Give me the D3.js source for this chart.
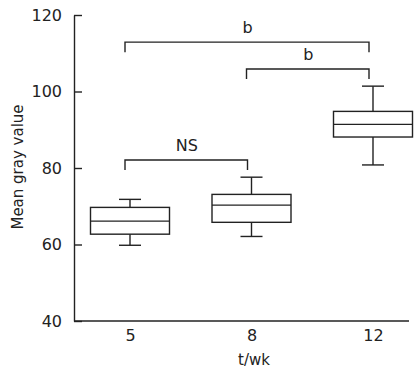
<!DOCTYPE html>
<html>
<head>
<meta charset="utf-8">
<script src="https://cdn.jsdelivr.net/npm/d3@7"></script>
<style>
  body { margin: 0; background: #fff; }
  text { font-family: "DejaVu Sans", Verdana, sans-serif; fill: #222; }
</style>
</head>
<body>
<div id="chart"></div>
<script>
// box plot data
var weeks = ["5", "8", "12"];
var whiskerLow = [59.8, 62.1, 80.8];
var q1 = [62.7, 65.8, 88.1];
var medians = [66.1, 70.3, 91.4];
var q3 = [69.7, 73.1, 94.8];
var whiskerHigh = [71.8, 77.6, 101.4];
var yTicks = [40, 60, 80, 100, 120];

// significance brackets
var bracketFrom = ["5", "8", "5"];
var bracketTo = ["12", "12", "8"];
var bracketLevel = [112.9, 105.9, 82.1];
var bracketLabel = ["b", "b", "NS"];

var svgWidth = 419;
var svgHeight = 375;

var margin = { top: 15, right: 10, bottom: 54, left: 74 };
var height = svgHeight - margin.top - margin.bottom;

var svg = d3.select("#chart")
  .append("svg")
  .attr("width", svgWidth)
  .attr("height", svgHeight);

var xScale = d3.scalePoint()
  .domain(weeks)
  .range([130, 373]);

var yScale = d3.scaleLinear()
  .domain([40, 120])
  .range([margin.top + height, margin.top]);

var ink = "#222";
var boxWidth = 79;
var capWidth = 22;

// y axis, ticks pointing inward
var leftAxis = d3.axisLeft(yScale)
  .tickValues(yTicks)
  .tickSizeInner(-8)
  .tickSizeOuter(0)
  .tickPadding(12);

var yAxisG = svg.append("g")
  .attr("transform", `translate(${margin.left}, 0)`)
  .call(leftAxis);
yAxisG.select(".domain").attr("stroke", ink).attr("stroke-width", 1.4);
yAxisG.selectAll(".tick line").attr("stroke", ink).attr("stroke-width", 1.4);
yAxisG.selectAll(".tick text")
  .attr("font-size", 16)
  .attr("fill", ink)
  .style("font-family", "DejaVu Sans");

// x axis: just the line and labels
var bottomAxis = d3.axisBottom(xScale)
  .tickSize(0)
  .tickPadding(9);

var xAxisG = svg.append("g")
  .attr("transform", `translate(0, ${margin.top + height})`)
  .call(bottomAxis);
xAxisG.select(".domain")
  .attr("d", `M${margin.left},0H409`)
  .attr("stroke", ink).attr("stroke-width", 1.4);
xAxisG.selectAll(".tick text")
  .attr("font-size", 16)
  .attr("fill", ink)
  .style("font-family", "DejaVu Sans");

// axis titles
svg.append("text")
  .attr("x", 254)
  .attr("y", 365)
  .attr("text-anchor", "middle")
  .attr("font-size", 15)
  .text("t/wk");

svg.append("text")
  .attr("transform", "translate(23, 167) rotate(-90)")
  .attr("text-anchor", "middle")
  .attr("font-size", 15)
  .text("Mean gray value");

// boxes
var boxData = weeks.map(function(w, i) {
  return { week: w, lo: whiskerLow[i], q1: q1[i], med: medians[i], q3: q3[i], hi: whiskerHigh[i] };
});

var boxGroup = svg.selectAll(null)
  .data(boxData)
  .enter()
  .append("g")
  .attr("stroke", ink)
  .attr("stroke-width", 1.4)
  .attr("fill", "none");

// whiskers
boxGroup.append("line")
  .attr("x1", d => xScale(d.week))
  .attr("x2", d => xScale(d.week))
  .attr("y1", d => yScale(d.hi))
  .attr("y2", d => yScale(d.q3));
boxGroup.append("line")
  .attr("x1", d => xScale(d.week))
  .attr("x2", d => xScale(d.week))
  .attr("y1", d => yScale(d.q1))
  .attr("y2", d => yScale(d.lo));
boxGroup.append("line")
  .attr("x1", d => xScale(d.week) - capWidth / 2)
  .attr("x2", d => xScale(d.week) + capWidth / 2)
  .attr("y1", d => yScale(d.hi))
  .attr("y2", d => yScale(d.hi));
boxGroup.append("line")
  .attr("x1", d => xScale(d.week) - capWidth / 2)
  .attr("x2", d => xScale(d.week) + capWidth / 2)
  .attr("y1", d => yScale(d.lo))
  .attr("y2", d => yScale(d.lo));

boxGroup.append("rect")
  .attr("x", d => xScale(d.week) - boxWidth / 2)
  .attr("width", boxWidth)
  .attr("y", d => yScale(d.q3))
  .attr("height", d => yScale(d.q1) - yScale(d.q3));

boxGroup.append("line")
  .attr("x1", d => xScale(d.week) - boxWidth / 2)
  .attr("x2", d => xScale(d.week) + boxWidth / 2)
  .attr("y1", d => yScale(d.med))
  .attr("y2", d => yScale(d.med));

// brackets
var bracketData = bracketLabel.map(function(lab, i) {
  return { from: bracketFrom[i], to: bracketTo[i], level: bracketLevel[i], label: lab };
});

var brackets = svg.selectAll(null)
  .data(bracketData)
  .enter()
  .append("g");

brackets.append("path")
  .attr("fill", "none")
  .attr("stroke", ink)
  .attr("stroke-width", 1.4)
  .attr("d", function(d) {
    var x1 = xScale(d.from) - 5;
    var x2 = xScale(d.to) - 4;
    var y = yScale(d.level);
    return `M${x1},${y + 10}V${y}H${x2}V${y + 10}`;
  });

brackets.append("text")
  .attr("x", d => (xScale(d.from) + xScale(d.to)) / 2 - 4)
  .attr("y", d => yScale(d.level) - 9)
  .attr("text-anchor", "middle")
  .attr("font-size", 16)
  .text(d => d.label);
</script>
</body>
</html>
